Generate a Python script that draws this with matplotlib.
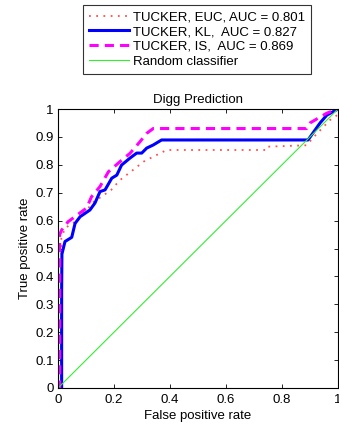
import matplotlib
matplotlib.use("Agg")
import matplotlib.pyplot as plt

plt.rcParams['font.family'] = ['Liberation Sans', 'DejaVu Sans']

title = "Digg Prediction"
xlabel = "False positive rate"
ylabel = "True positive rate"

labels = ["TUCKER, EUC, AUC = 0.801", "TUCKER, KL,  AUC = 0.827",
          "TUCKER, IS,  AUC = 0.869", "Random classifier"]

euc_fpr = [0, 0.012, 0.012, 0.025, 0.067, 0.108, 0.13, 0.156, 0.19, 0.221, 0.275,
           0.305, 0.352, 0.388, 0.745, 0.75, 0.888, 0.91, 0.971, 1.0, 1.0]
euc_tpr = [0, 0.0, 0.537, 0.573, 0.60, 0.645, 0.67, 0.686, 0.71, 0.745, 0.787,
           0.811, 0.835, 0.853, 0.853, 0.865, 0.87, 0.896, 0.96, 0.98, 1.0]

kl_fpr = [0, 0.013, 0.013, 0.014, 0.025, 0.049, 0.061, 0.079, 0.114, 0.132, 0.15,
          0.168, 0.192, 0.21, 0.227, 0.257, 0.281, 0.299, 0.317, 0.34, 0.37,
          0.893, 0.936, 0.96, 1.0]
kl_tpr = [0, 0.0, 0.35, 0.48, 0.525, 0.54, 0.59, 0.614, 0.638, 0.663, 0.704,
          0.71, 0.752, 0.763, 0.799, 0.824, 0.842, 0.842, 0.86, 0.871, 0.889,
          0.889, 0.95, 0.978, 1.0]

is_fpr = [0, 0.006, 0.006, 0.013, 0.036, 0.055, 0.102, 0.12, 0.15, 0.18, 0.221,
          0.257, 0.293, 0.317, 0.34, 0.888, 0.9, 0.96, 1.0]
is_tpr = [0, 0.0, 0.55, 0.566, 0.596, 0.61, 0.645, 0.686, 0.722, 0.775, 0.811,
          0.841, 0.883, 0.913, 0.93, 0.93, 0.95, 0.985, 1.0]

rand_fpr = [0, 1]
rand_tpr = [0, 1]

xticks = [0, 0.2, 0.4, 0.6, 0.8, 1]
xticklabels = ["0", "0.2", "0.4", "0.6", "0.8", "1"]
yticks = [0, 0.1, 0.2, 0.3, 0.4, 0.5, 0.6, 0.7, 0.8, 0.9, 1]
yticklabels = ["0", "0.1", "0.2", "0.3", "0.4", "0.5", "0.6", "0.7", "0.8", "0.9", "1"]

FS = 9.5

fig = plt.figure(figsize=(3.39, 4.28), dpi=100)
ax = fig.add_axes([58/339, 40/428, 280/339, 279/428])

l1, = ax.plot(euc_fpr, euc_tpr, color='#ff5050', lw=1.3, linestyle=(0, (1, 3)))
l2, = ax.plot(kl_fpr, kl_tpr, color='#0000ff', lw=2.2)
l3, = ax.plot(is_fpr, is_tpr, color='#ff00ff', lw=2.2, linestyle=(0, (3, 2)))
l4, = ax.plot(rand_fpr, rand_tpr, color='#33ee33', lw=0.8)

ax.set_xlim(0, 1)
ax.set_ylim(0, 1)
ax.set_xticks(xticks)
ax.set_xticklabels(xticklabels)
ax.set_yticks(yticks)
ax.set_yticklabels(yticklabels)
ax.tick_params(direction='in', top=True, right=True, labelsize=FS, length=3, width=0.6)
ax.tick_params(axis='x', pad=4)
ax.tick_params(axis='y', pad=3)
for s in ax.spines.values():
    s.set_linewidth(0.8)
ax.set_title(title, fontsize=FS, pad=4)
ax.set_xlabel(xlabel, fontsize=FS, labelpad=3)
ax.set_ylabel(ylabel, fontsize=FS, labelpad=3)

leg = fig.legend([l1, l2, l3, l4], labels, loc='upper left',
                 bbox_to_anchor=(83/339, 1 - 5/428), fontsize=FS,
                 handlelength=3.0, handletextpad=0.35, labelspacing=0.2,
                 borderpad=0.45, borderaxespad=0, fancybox=False, frameon=True)
leg.get_frame().set_edgecolor('black')
leg.get_frame().set_linewidth(0.8)

fig.savefig("out.png", dpi=100)
